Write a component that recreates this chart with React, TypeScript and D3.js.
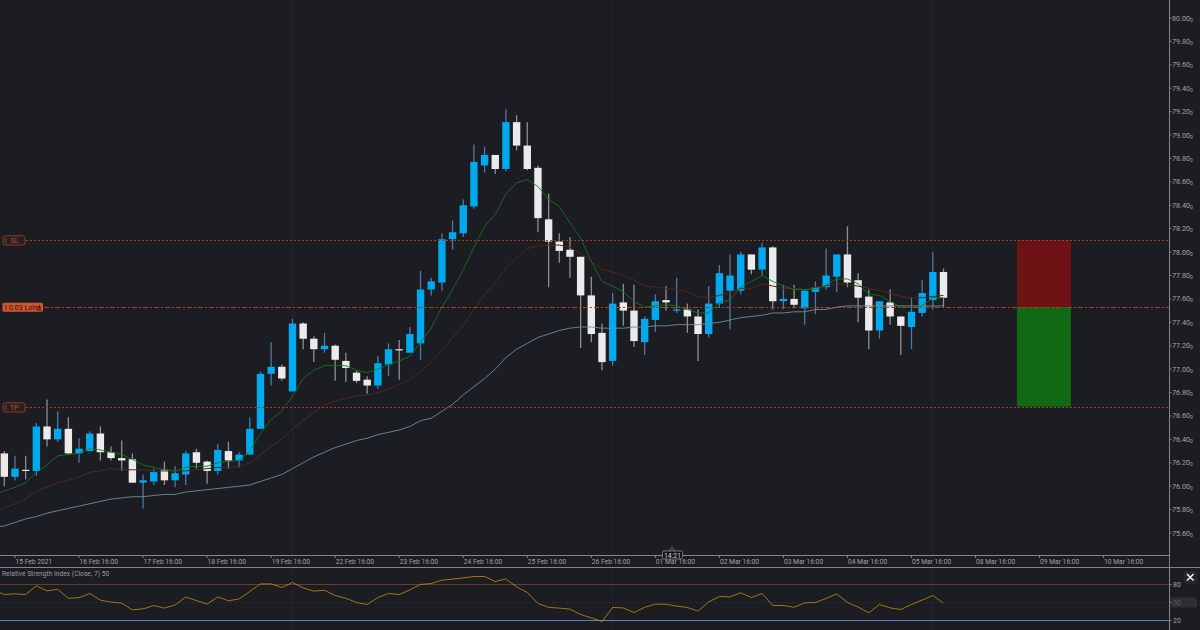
import React, { useEffect, useRef } from "react";
import * as d3 from "d3";

const W = 1200;
const H = 630;

// candles, oldest first. true = blue (up) candle
const up = [
  false, true, false, true, false, true, false, true, true, false,
  false, false, false, true, true, false, true, true, false, false,
  true, false, true, true, true, true, false, true, false, false,
  true, false, false, false, false, true, true, false, true, true,
  true, true, true, true, true, true, false, true, false, false,
  false, false, false, false, false, false, false, true, false, false,
  true, true, false, true, false, false, true, true, true, true,
  false, true, false, true, false, true, true, true, true, false,
  false, false, true, false, false, true, true, true, false,
];
const high = [
  76.3, 76.26, 76.26, 76.54, 76.74, 76.64, 76.59, 76.41, 76.47, 76.51,
  76.34, 76.39, 76.28, 76.1, 76.15, 76.21, 76.17, 76.3, 76.32, 76.22,
  76.36, 76.38, 76.29, 76.59, 76.98, 77.23, 77.04, 77.43, 77.4, 77.28,
  77.31, 77.21, 77.14, 76.99, 76.94, 77.11, 77.22, 77.25, 77.36, 77.84,
  77.78, 78.16, 78.27, 78.45, 78.92, 78.9, 78.83, 79.22, 79.17, 79.11,
  78.74, 78.5, 78.16, 78.13, 77.96, 77.79, 77.39, 77.65, 77.73, 77.72,
  77.45, 77.64, 77.71, 77.78, 77.56, 77.51, 77.71, 77.89, 77.98, 78.0,
  77.98, 78.08, 78.05, 77.72, 77.72, 77.68, 77.75, 78.03, 77.98, 78.22,
  77.82, 77.68, 77.58, 77.68, 77.45, 77.61, 77.76, 78.0, 77.86,
];
const low = [
  76.0, 76.05, 76.06, 76.09, 76.34, 76.38, 76.27, 76.2, 76.3, 76.22,
  76.22, 76.13, 76.03, 75.81, 76.01, 76.01, 75.99, 76.01, 76.15, 76.02,
  76.1, 76.15, 76.16, 76.27, 76.49, 76.86, 76.9, 76.81, 77.17, 77.06,
  77.14, 76.9, 76.89, 76.88, 76.79, 76.83, 76.94, 76.91, 77.14, 77.08,
  77.63, 77.67, 78.02, 78.13, 78.37, 78.68, 78.67, 78.69, 78.87, 78.7,
  78.17, 77.7, 77.91, 77.78, 77.18, 77.23, 76.99, 77.03, 77.37, 77.19,
  77.12, 77.32, 77.5, 77.48, 77.31, 77.07, 77.27, 77.53, 77.34, 77.64,
  77.81, 77.8, 77.51, 77.51, 77.52, 77.38, 77.47, 77.68, 77.66, 77.7,
  77.4, 77.17, 77.26, 77.38, 77.12, 77.17, 77.45, 77.51, 77.53,
];
const bodyTop = [
  76.28, 76.15, 76.14, 76.51, 76.51, 76.49, 76.49, 76.32, 76.45, 76.45,
  76.29, 76.24, 76.23, 76.05, 76.12, 76.14, 76.11, 76.28, 76.29, 76.21,
  76.31, 76.3, 76.27, 76.49, 76.96, 77.02, 77.02, 77.39, 77.39, 77.26,
  77.2, 77.2, 77.07, 76.97, 76.91, 77.05, 77.17, 77.17, 77.3, 77.68,
  77.75, 78.11, 78.17, 78.4, 78.77, 78.83, 78.83, 79.11, 79.11, 78.91,
  78.72, 78.28, 78.09, 78.02, 77.96, 77.63, 77.31, 77.56, 77.57, 77.5,
  77.43, 77.58, 77.59, 77.51, 77.51, 77.45, 77.56, 77.82, 77.8, 77.98,
  77.98, 78.04, 78.04, 77.6, 77.6, 77.67, 77.7, 77.8, 77.98, 77.98,
  77.76, 77.62, 77.58, 77.57, 77.45, 77.49, 77.65, 77.83, 77.83,
];
const bodyBottom = [
  76.08, 76.08, 76.13, 76.13, 76.4, 76.4, 76.28, 76.28, 76.3, 76.29,
  76.24, 76.22, 76.03, 76.03, 76.04, 76.05, 76.05, 76.1, 76.2, 76.13,
  76.13, 76.22, 76.22, 76.27, 76.49, 76.96, 76.92, 76.81, 77.26, 77.17,
  77.17, 77.08, 77.01, 76.9, 76.86, 76.86, 77.04, 77.16, 77.14, 77.22,
  77.68, 77.74, 78.11, 78.16, 78.39, 78.74, 78.71, 78.71, 78.91, 78.71,
  78.29, 78.09, 78.01, 77.96, 77.63, 77.3, 77.06, 77.07, 77.5, 77.24,
  77.23, 77.42, 77.57, 77.5, 77.45, 77.3, 77.3, 77.56, 77.67, 77.67,
  77.85, 77.85, 77.58, 77.58, 77.55, 77.52, 77.66, 77.7, 77.79, 77.74,
  77.61, 77.33, 77.33, 77.45, 77.37, 77.36, 77.48, 77.59, 77.61,
];

// moving averages start one bar before the first candle (off the left edge)
const maFast = [
  75.93, 75.96, 75.99, 76.03, 76.12, 76.18, 76.26, 76.27, 76.28, 76.32,
  76.31, 76.29, 76.27, 76.23, 76.18, 76.16, 76.14, 76.13, 76.16, 76.17,
  76.17, 76.2, 76.21, 76.22, 76.3, 76.45, 76.57, 76.64, 76.77, 76.92,
  76.99, 77.03, 77.03, 77.03, 76.99, 76.97, 77.0, 77.04, 77.07, 77.11,
  77.23, 77.35, 77.53, 77.68, 77.85, 78.04, 78.22, 78.32, 78.5, 78.59,
  78.62, 78.56, 78.45, 78.39, 78.25, 78.12, 77.92, 77.75, 77.71, 77.66,
  77.58, 77.53, 77.54, 77.55, 77.54, 77.51, 77.48, 77.48, 77.57, 77.59,
  77.7, 77.75, 77.8, 77.75, 77.71, 77.68, 77.68, 77.68, 77.72, 77.77,
  77.77, 77.73, 77.64, 77.63, 77.58, 77.53, 77.53, 77.54, 77.61, 77.61,
];
const maMid = [
  75.79, 75.81, 75.85, 75.89, 75.96, 75.99, 76.03, 76.05, 76.08, 76.12,
  76.13, 76.15, 76.14, 76.14, 76.14, 76.13, 76.13, 76.13, 76.13, 76.14,
  76.15, 76.16, 76.16, 76.17, 76.2, 76.27, 76.34, 76.4, 76.49, 76.56,
  76.63, 76.69, 76.73, 76.75, 76.77, 76.78, 76.8, 76.83, 76.87, 76.91,
  76.98, 77.06, 77.16, 77.27, 77.37, 77.51, 77.64, 77.74, 77.86, 77.95,
  78.03, 78.05, 78.06, 78.06, 78.04, 77.99, 77.92, 77.85, 77.83, 77.8,
  77.76, 77.71, 77.7, 77.69, 77.68, 77.66, 77.62, 77.61, 77.63, 77.65,
  77.69, 77.69, 77.73, 77.71, 77.69, 77.69, 77.68, 77.7, 77.71, 77.73,
  77.72, 77.71, 77.69, 77.67, 77.65, 77.62, 77.61, 77.61, 77.62, 77.63,
];
const maSlow = [
  75.65, 75.66, 75.69, 75.72, 75.74, 75.77, 75.79, 75.81, 75.83, 75.85,
  75.87, 75.89, 75.9, 75.91, 75.91, 75.92, 75.93, 75.93, 75.95, 75.96,
  75.97, 75.98, 75.99, 76.0, 76.01, 76.04, 76.07, 76.1, 76.15, 76.2,
  76.25, 76.29, 76.33, 76.36, 76.39, 76.41, 76.44, 76.46, 76.48, 76.51,
  76.56, 76.58, 76.64, 76.7, 76.78, 76.85, 76.92, 77.0, 77.1, 77.17,
  77.22, 77.27, 77.3, 77.33, 77.35, 77.36, 77.36, 77.35, 77.35, 77.35,
  77.36, 77.36, 77.37, 77.37, 77.38, 77.38, 77.38, 77.39, 77.4, 77.42,
  77.44, 77.45, 77.46, 77.48, 77.48, 77.49, 77.49, 77.51, 77.51, 77.53,
  77.54, 77.54, 77.54, 77.54, 77.54, 77.54, 77.54, 77.54, 77.54, 77.54,
];
const rsi = [
  70.5, 63.3, 64.4, 63.3, 77.8, 69.4, 72, 57, 58, 65,
  54, 50.6, 49, 37.8, 39.4, 45, 40.6, 46, 59, 53.3,
  47.2, 59.4, 52.8, 56, 68.3, 81, 81, 75, 83.3, 74.4,
  69, 70.5, 61.7, 57, 50, 46.7, 58.3, 65, 63.3, 71,
  80, 81.7, 87.2, 89, 91, 93.3, 93.3, 85, 89.4, 76,
  66.7, 48.3, 42, 40.6, 39, 30, 24.4, 18.3, 41.7, 41,
  33.3, 42, 47.2, 47.2, 44, 41.7, 35.6, 51, 60, 59.4,
  66, 58.3, 65, 45, 45, 42, 49.4, 50, 56.7, 64.4,
  50, 42.4, 32.8, 46.7, 41, 38.3, 46.7, 54, 61.7, 49,
];

const priceTicks = [
  "80.00", "79.80", "79.60", "79.40", "79.20", "79.00", "78.80", "78.60",
  "78.40", "78.20", "78.00", "77.80", "77.60", "77.40", "77.20", "77.00",
  "76.80", "76.60", "76.40", "76.20", "76.00", "75.80", "75.60",
];
const dateLabels = [
  "15 Feb 2021", "16 Feb 16:00", "17 Feb 16:00", "18 Feb 16:00", "19 Feb 16:00",
  "22 Feb 16:00", "23 Feb 16:00", "24 Feb 16:00", "25 Feb 16:00", "26 Feb 16:00",
  "01 Mar 16:00", "02 Mar 16:00", "03 Mar 16:00", "04 Mar 16:00", "05 Mar 16:00",
  "08 Mar 16:00", "09 Mar 16:00", "10 Mar 16:00",
];
// bar index of the first date label, and bars between labels
const dateStart = 1;
const dateEvery = 6;
const weekBars = [27, 57, 87];

const stopLoss = 78.1;
const takeProfit = 76.68;
const entry = 77.53;
const rsiTicks = [80, 50, 20];

const BG = "#1c1c23";
const FONT = "Roboto, sans-serif";
const AXIS = "#84848a";
const LABEL = "#a2a2a6";

export default function App() {
  const ref = useRef<SVGSVGElement>(null);

  useEffect(() => {
    const svg = d3.select(ref.current);
    svg.selectAll("*").remove();

    const x = d3.scaleLinear().domain([0, 88]).range([4.33, 943.5]);
    const y = d3.scaleLinear().domain([75.6, 80]).range([533, 18]);
    const yRsi = d3.scaleLinear().domain([20, 80]).range([620.5, 584.5]);
    const axisX = 1169.5;
    const mainBottom = 556;
    const sepY = 567.5;

    svg.append("rect").attr("width", W).attr("height", H).attr("fill", BG);

    svg.append("clipPath").attr("id", "main-clip").append("rect")
      .attr("width", axisX).attr("height", mainBottom);
    svg.append("clipPath").attr("id", "rsi-clip").append("rect")
      .attr("y", sepY).attr("width", axisX).attr("height", H - sepY);

    // week separators
    svg.append("g").selectAll("line").data(weekBars).join("line")
      .attr("x1", (d) => x(d)).attr("x2", (d) => x(d))
      .attr("y1", 0).attr("y2", H)
      .attr("stroke", "#25252c").attr("stroke-width", 1);

    const main = svg.append("g").attr("clip-path", "url(#main-clip)");

    // trade zone
    const zoneX0 = x(94.88);
    const zoneW = x(99.94) - zoneX0;
    main.append("rect").attr("x", zoneX0).attr("width", zoneW)
      .attr("y", y(stopLoss)).attr("height", y(entry) - y(stopLoss)).attr("fill", "#6f1216");
    main.append("rect").attr("x", zoneX0).attr("width", zoneW)
      .attr("y", y(entry)).attr("height", y(takeProfit) - y(entry)).attr("fill", "#106a14");

    // candles
    const idx = d3.range(up.length);
    const bars = main.append("g");
    bars.selectAll("line").data(idx).join("line")
      .attr("x1", (i) => x(i)).attr("x2", (i) => x(i))
      .attr("y1", (i) => y(high[i])).attr("y2", (i) => y(low[i]))
      .attr("stroke", (i) => (up[i] ? "#4f78a6" : "#8f8f92"))
      .attr("stroke-width", 1.3);
    bars.selectAll("rect").data(idx).join("rect")
      .attr("x", (i) => x(i) - 3.7)
      .attr("width", 7.4)
      .attr("y", (i) => y(bodyTop[i]))
      .attr("height", (i) => Math.max(1.2, y(bodyBottom[i]) - y(bodyTop[i])))
      .attr("fill", (i) => (up[i] ? "#01a9ef" : "#ebebeb"));

    // moving averages
    const maLine = d3.line<number>().x((_, i) => x(i - 1)).y((d) => y(d));
    main.append("path").attr("d", maLine(maSlow))
      .attr("fill", "none").attr("stroke", "#6f8f98").attr("stroke-width", 0.9);
    main.append("path").attr("d", maLine(maMid))
      .attr("fill", "none").attr("stroke", "#50291c").attr("stroke-width", 1);
    main.append("path").attr("d", maLine(maFast))
      .attr("fill", "none").attr("stroke", "#147a1c").attr("stroke-width", 0.85);

    // order lines
    const orders = [
      { p: stopLoss, x0: 26, dash: "2 2" },
      { p: takeProfit, x0: 26, dash: "2 2" },
      { p: entry, x0: 44, dash: "5 2 2 2" },
    ];
    orders.forEach((o) => {
      svg.append("line")
        .attr("x1", o.x0).attr("x2", axisX)
        .attr("y1", Math.round(y(o.p)) + 0.5).attr("y2", Math.round(y(o.p)) + 0.5)
        .attr("stroke", "#a5421f").attr("stroke-width", 1)
        .attr("stroke-dasharray", o.dash);
    });

    // order tags
    const tag = (p: number, label: string) => {
      const cy = Math.round(y(p)) + 0.5;
      svg.append("rect").attr("x", 3).attr("y", cy - 4.7).attr("width", 22).attr("height", 9.2)
        .attr("rx", 2).attr("fill", "#2a2021").attr("stroke", "#8a3c22");
      svg.append("rect").attr("x", 5).attr("y", cy - 2.5).attr("width", 1.5).attr("height", 5)
        .attr("fill", "#6a3a2a");
      svg.append("text").attr("x", 14.5).attr("y", cy + 2.6).attr("text-anchor", "middle")
        .attr("font-family", FONT).attr("font-size", 7.2).attr("fill", "#b5502c").text(label);
    };
    tag(stopLoss, "SL");
    tag(takeProfit, "TP");
    const ey = Math.round(y(entry)) + 0.5;
    svg.append("rect").attr("x", 2.5).attr("y", ey - 4.7).attr("width", 40.5).attr("height", 9)
      .attr("rx", 1.5).attr("fill", "#d2552b");
    svg.append("rect").attr("x", 5).attr("y", ey - 2.5).attr("width", 2).attr("height", 5)
      .attr("fill", "#8f3d20");
    svg.append("text").attr("x", 8.7).attr("y", ey + 2.6)
      .attr("font-family", FONT).attr("font-size", 7.2).attr("fill", "#26191a").text("0.03 Lots");
    svg.append("path")
      .attr("d", d3.line()([[38, ey + 1], [41, ey + 1], [39.5, ey - 3], [38, ey + 1]]))
      .attr("fill", "#26191a");
    svg.append("rect").attr("x", 37.5).attr("y", ey + 2).attr("width", 4).attr("height", 1)
      .attr("fill", "#26191a");

    // frame
    svg.append("line").attr("x1", axisX).attr("x2", axisX).attr("y1", 0).attr("y2", H)
      .attr("stroke", AXIS);
    svg.append("line").attr("x1", 0).attr("x2", axisX).attr("y1", mainBottom - 0.5).attr("y2", mainBottom - 0.5)
      .attr("stroke", AXIS);
    svg.append("line").attr("x1", 0).attr("x2", W).attr("y1", sepY).attr("y2", sepY)
      .attr("stroke", AXIS);

    // price axis
    const priceAxis = svg.append("g");
    priceTicks.forEach((t) => {
      const py = y(+t);
      priceAxis.append("line").attr("x1", axisX).attr("x2", axisX + 2)
        .attr("y1", py).attr("y2", py).attr("stroke", AXIS);
      const text = priceAxis.append("text").attr("x", axisX + 2.5).attr("y", py + 2.5)
        .attr("font-family", FONT).attr("font-size", 7.2).attr("fill", LABEL).text(t);
      text.append("tspan").attr("font-size", 5).attr("dy", 1).text("0");
    });

    // time axis
    dateLabels.forEach((d, k) => {
      const tx = x(dateStart + k * dateEvery);
      svg.append("line").attr("x1", tx).attr("x2", tx).attr("y1", mainBottom).attr("y2", mainBottom + 2)
        .attr("stroke", AXIS);
      svg.append("text").attr("x", tx + 0.5).attr("y", 564)
        .attr("font-family", FONT).attr("font-size", 6.7).attr("fill", LABEL).text(d);
    });

    // current time marker
    const marker = svg.append("g");
    marker.append("path").attr("d", "M669 551 L672 547.5 L675 551 Z").attr("fill", "#111115").attr("stroke", "#77777c");
    marker.append("rect").attr("x", 662.5).attr("y", 551).attr("width", 20).attr("height", 8)
      .attr("rx", 1.5).attr("fill", "#111115").attr("stroke", "#77777c");
    marker.append("text").attr("x", 672.5).attr("y", 557.5).attr("text-anchor", "middle")
      .attr("font-family", FONT).attr("font-size", 6.8).attr("fill", "#d8d8d8").text("14:21");

    // RSI pane
    svg.append("text").attr("x", 2).attr("y", 575.5)
      .attr("font-family", FONT).attr("font-size", 6.7).attr("fill", "#9a9a9e")
      .text("Relative Strength Index (Close, 7) 50");

    const rsiPane = svg.append("g").attr("clip-path", "url(#rsi-clip)");
    rsiPane.append("line").attr("x1", 0).attr("x2", axisX)
      .attr("y1", yRsi(80)).attr("y2", yRsi(80)).attr("stroke", "#6a3c2c");
    rsiPane.append("line").attr("x1", 0).attr("x2", axisX)
      .attr("y1", yRsi(50)).attr("y2", yRsi(50)).attr("stroke", "#34343a").attr("stroke-dasharray", "1 2");
    rsiPane.append("line").attr("x1", 0).attr("x2", axisX)
      .attr("y1", yRsi(20)).attr("y2", yRsi(20)).attr("stroke", "#5f7fb4");
    const rsiLine = d3.line<number>().x((_, i) => x(i - 1)).y((d) => yRsi(d));
    rsiPane.append("path").attr("d", rsiLine(rsi)).attr("fill", "none")
      .attr("stroke", "#cf960f").attr("stroke-width", 0.75);

    svg.append("rect").attr("x", 1170.5).attr("y", 597.5).attr("width", 26.5).attr("height", 10)
      .attr("rx", 1.5).attr("fill", "#2e2e33");
    rsiTicks.forEach((t) => {
      svg.append("line").attr("x1", axisX).attr("x2", axisX + 2)
        .attr("y1", yRsi(t)).attr("y2", yRsi(t)).attr("stroke", AXIS);
      svg.append("text").attr("x", axisX + 3.5).attr("y", yRsi(t) + 2.6)
        .attr("font-family", FONT).attr("font-size", 7)
        .attr("fill", t === 50 ? "#5c5c61" : LABEL).text(t);
    });

    // close button
    svg.append("rect").attr("x", 1184).attr("y", 571).attr("width", 13).attr("height", 13)
      .attr("rx", 2).attr("fill", "#26262c");
    svg.append("path").attr("d", "M1187 574 L1193.5 580.5 M1193.5 574 L1187 580.5")
      .attr("stroke", "#f2f2f2").attr("stroke-width", 1.5).attr("fill", "none");
  }, []);

  return (
    <svg
      ref={ref}
      width={W}
      height={H}
      style={{ position: "absolute", left: 0, top: 0, display: "block" }}
    />
  );
}
